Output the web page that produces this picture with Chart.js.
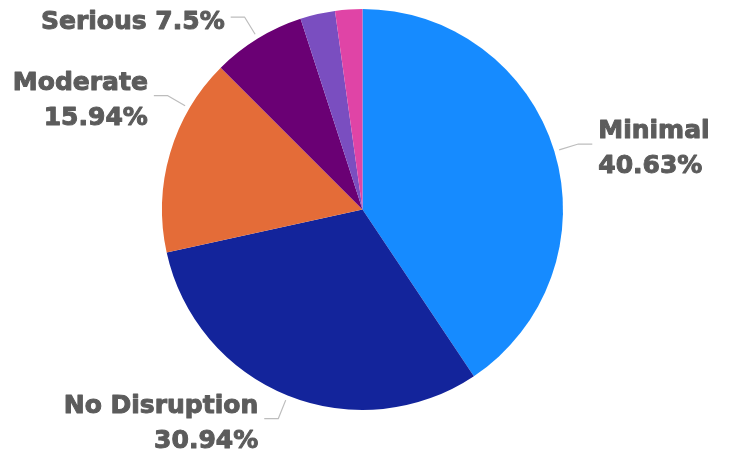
<!DOCTYPE html>
<html>
<head>
<meta charset="utf-8">
<script src="https://cdn.jsdelivr.net/npm/chart.js@4.4.1/dist/chart.umd.min.js"></script>
<style>
  html, body { margin: 0; padding: 0; background: #fff; }
  #wrap { width: 729px; height: 458px; }
</style>
</head>
<body>
<div id="wrap"><canvas id="myChart" width="729" height="458"></canvas></div>
<script>
const categories = ['Minimal', 'No Disruption', 'Moderate', 'Serious', 'Severe', 'Critical'];
const shares = [40.63, 30.94, 15.94, 7.5, 2.81, 2.19];
const colors = ['#168bff', '#13249b', '#e46c38', '#6a0074', '#7a4ec0', '#e044a6'];
// only the bigger slices get a callout
const labelled = [true, true, true, true, false, false];

// callout labels with elbow leader lines
const calloutPlugin = {
  id: 'callouts',
  afterDatasetsDraw(chart, args, opts) {
    const ctx = chart.ctx;
    const meta = chart.getDatasetMeta(0);
    ctx.save();
    ctx.font = opts.font;
    meta.data.forEach((arc, i) => {
      if (!labelled[i]) return;
      const { x, y, outerRadius, startAngle, endAngle } = arc.getProps(['x', 'y', 'outerRadius', 'startAngle', 'endAngle'], true);
      const mid = (startAngle + endAngle) / 2 + (opts.nudge[i] || 0) * Math.PI / 180;
      const c = Math.cos(mid), s = Math.sin(mid);
      const x0 = x + c * (outerRadius + 5), y0 = y + s * (outerRadius + 5);
      const x1 = x + c * (outerRadius + 25), y1 = y + s * (outerRadius + 25);
      const right = c >= 0;
      const x2 = x1 + (right ? 14 : -14);

      ctx.strokeStyle = '#bdbdbd';
      ctx.lineWidth = 1.2;
      ctx.beginPath();
      ctx.moveTo(x0, y0);
      ctx.lineTo(x1, y1);
      ctx.lineTo(x2, y1);
      ctx.stroke();

      const tx = x2 + (right ? 6 : -6);
      const room = right ? chart.width - tx : tx;
      const pct = shares[i] + '%';
      const single = categories[i] + ' ' + pct;
      const lines = ctx.measureText(single).width < room ? [single] : [categories[i], pct];
      const lh = 35;
      const top = y1 + 5 - (lines.length - 1) * lh / 2;
      ctx.fillStyle = '#5c5c5c';
      ctx.strokeStyle = '#5c5c5c';
      ctx.lineWidth = 1;
      ctx.lineJoin = 'round';
      ctx.textAlign = right ? 'left' : 'right';
      ctx.textBaseline = 'middle';
      lines.forEach((t, k) => {
        ctx.fillText(t, tx, top + k * lh);
        ctx.strokeText(t, tx, top + k * lh);
      });
    });
    ctx.restore();
  }
};

new Chart(document.getElementById('myChart'), {
  type: 'pie',
  data: {
    labels: categories,
    datasets: [{
      data: shares,
      backgroundColor: colors,
      borderWidth: 0
    }]
  },
  options: {
    responsive: false,
    animation: false,
    layout: { padding: { top: 9, bottom: 48, left: 0, right: 4 } },
    plugins: {
      legend: { display: false },
      tooltip: { enabled: false },
      callouts: {
        font: 'bold 25px "DejaVu Sans"',
        nudge: [0, 0, 14, 0, 0, 0]
      }
    }
  },
  plugins: [calloutPlugin]
});
</script>
</body>
</html>
